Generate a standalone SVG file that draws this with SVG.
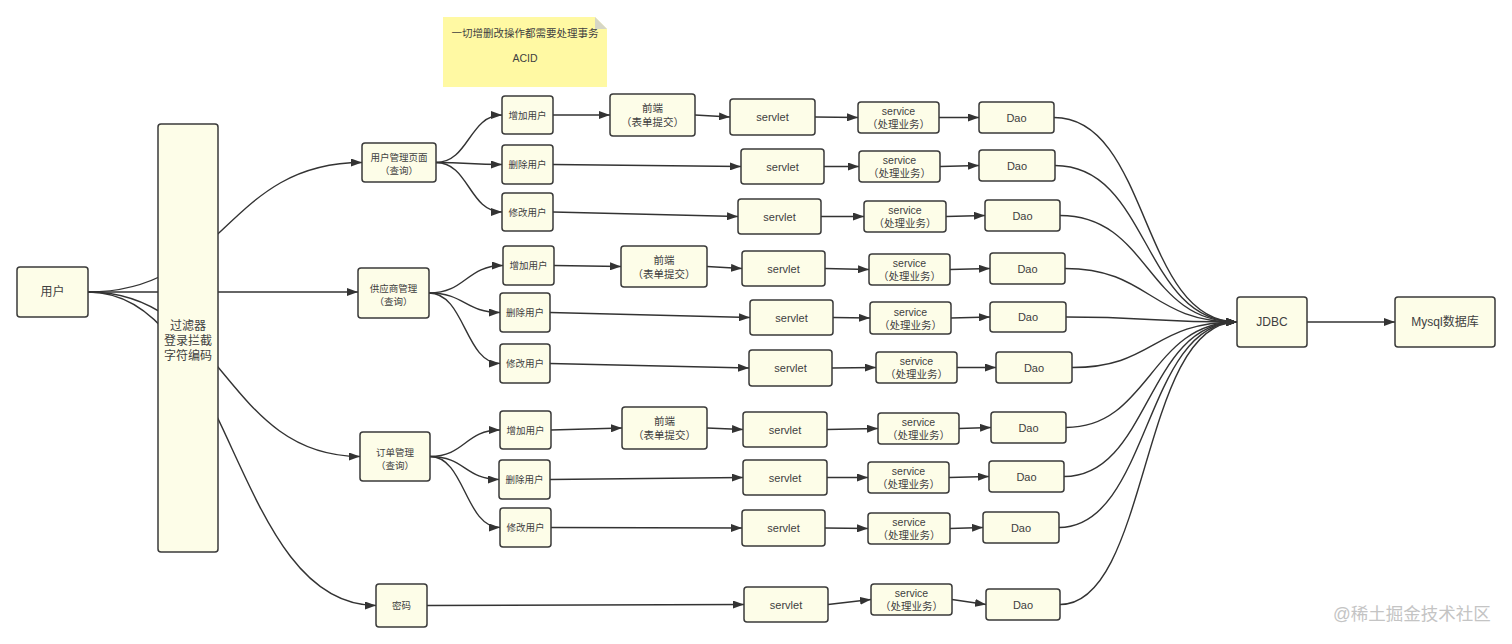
<svg xmlns="http://www.w3.org/2000/svg" width="1512" height="644" viewBox="0 0 1512 644">
<style>
.n{fill:#fdfde8;stroke:#3a3a3a;stroke-width:1.5}
.t{font-family:"Liberation Sans","Noto Sans CJK SC",sans-serif;fill:#404040;text-anchor:middle}
.s9{font-size:9.5px}.s10{font-size:10.5px}.s11{font-size:11px}.s12{font-size:12px}
.c{fill:none;stroke:#333;stroke-width:1.4}
.a{marker-end:url(#ah)}
</style>
<defs>
<marker id="ah" markerUnits="userSpaceOnUse" markerWidth="11" markerHeight="8" refX="11" refY="4" orient="auto"><path d="M0,0 L11,4 L0,8 z" fill="#333"/></marker>
</defs>
<rect width="1512" height="644" fill="#fff"/>

<g id="note">
<polygon points="443,17 595,17 607,29 607,87 443,87" fill="#fff9a3"/>
<polygon points="595,17 607,29 595,29" fill="#d6d6c6"/>
<text class="t s10" x="525" y="37">一切增删改操作都需要处理事务</text>
<text class="t s10" x="525" y="62">ACID</text>
</g>

<g id="connectors">
<!-- user fans (hidden behind filter) -->
<path class="c a" d="M88,292 C225,292 225,162.5 362,162.5"/>
<path class="c a" d="M88,292 L358,292"/>
<path class="c a" d="M88,292 C224,292 224,456.5 360,456.5"/>
<path class="c a" d="M88,292 C232,292 232,605.5 376,605.5"/>
<!-- module fans -->
<path class="c a" d="M436,162.5 C469,162.5 469,115 502,115"/>
<path class="c a" d="M436,162.5 C469,162.5 469,164.5 502,164.5"/>
<path class="c a" d="M436,162.5 C469,162.5 469,212 502,212"/>
<path class="c a" d="M429,293 C466,293 466,265.5 503,265.5"/>
<path class="c a" d="M429,293 C465,293 465,312.5 500,312.5"/>
<path class="c a" d="M429,293 C465,293 465,363.5 500,363.5"/>
<path class="c a" d="M430,456.5 C465,456.5 465,430 500,430"/>
<path class="c a" d="M430,456.5 C465,456.5 465,479.5 499,479.5"/>
<path class="c a" d="M430,456.5 C465,456.5 465,527.5 500,527.5"/>
<!-- row 1 -->
<path class="c a" d="M553,115 L610,115"/>
<path class="c a" d="M695,115 L730,117"/>
<path class="c a" d="M815,117 L858,117.5"/>
<path class="c a" d="M939,117.5 L979,117.5"/>
<path class="c a" d="M553,164.5 L741,166.5"/>
<path class="c a" d="M824,166.5 L859,166.5"/>
<path class="c a" d="M940,166.5 L979,165.5"/>
<path class="c a" d="M553,212 L738,216.5"/>
<path class="c a" d="M821,216.5 L864,216.5"/>
<path class="c a" d="M946,216.5 L985,215.5"/>
<!-- row 2 -->
<path class="c a" d="M554,265.5 L621,266.5"/>
<path class="c a" d="M707,266.5 L742,268.5"/>
<path class="c a" d="M825,268.5 L869,269.5"/>
<path class="c a" d="M950,269.5 L990,268.5"/>
<path class="c a" d="M550,312.5 L750,317.5"/>
<path class="c a" d="M833,317.5 L870,318"/>
<path class="c a" d="M951,318 L990,317"/>
<path class="c a" d="M550,363.5 L749,368"/>
<path class="c a" d="M832,368 L876,367.5"/>
<path class="c a" d="M957,367.5 L996,367.5"/>
<!-- row 3 -->
<path class="c a" d="M551,430 L622,428"/>
<path class="c a" d="M707,428 L743,429.5"/>
<path class="c a" d="M827,429.5 L878,428.5"/>
<path class="c a" d="M959,428.5 L991,427.5"/>
<path class="c a" d="M550,479.5 L743,477.5"/>
<path class="c a" d="M827,477.5 L868,477.5"/>
<path class="c a" d="M949,477.5 L989,476.5"/>
<path class="c a" d="M551,527.5 L742,528"/>
<path class="c a" d="M825,528 L868,528.5"/>
<path class="c a" d="M950,528.5 L983,527.5"/>
<!-- row 4 -->
<path class="c a" d="M427,605.5 L744,604.5"/>
<path class="c a" d="M828,604.5 L871,599.5"/>
<path class="c a" d="M952,599.5 L986,604.5"/>
<!-- Dao to JDBC -->
<path class="c a" d="M1054,117.5 C1150,117.5 1140,322 1237,322"/>
<path class="c a" d="M1055,165.5 C1150,165.5 1142,322 1237,322"/>
<path class="c a" d="M1060,215.5 C1150,215.5 1146,322 1237,322"/>
<path class="c a" d="M1065,268.5 C1150,268.5 1150,322 1237,322"/>
<path class="c a" d="M1066,317 C1150,317 1150,322 1237,322"/>
<path class="c a" d="M1072,367.5 C1155,367.5 1152,322 1237,322"/>
<path class="c a" d="M1066,427.5 C1150,427.5 1150,322 1237,322"/>
<path class="c a" d="M1064,476.5 C1150,476.5 1146,322 1237,322"/>
<path class="c a" d="M1059,527.5 C1150,527.5 1144,322 1237,322"/>
<path class="c a" d="M1060,604.5 C1150,604.5 1140,322 1237,322"/>
<path class="c a" d="M1307,322 L1395,322"/>
</g>

<g id="user"><rect class="n" x="17" y="267" width="71" height="50" rx="3"/><text class="t s12" x="52.5" y="296">用户</text></g>
<g id="filter"><rect class="n" x="158" y="124" width="60" height="428" rx="3"/>
<text class="t s12" x="188" y="330">过滤器</text><text class="t s12" x="188" y="345">登录拦截</text><text class="t s12" x="188" y="360">字符编码</text></g>

<g id="m1"><rect class="n" x="362" y="143" width="74" height="39" rx="3"/><text class="t s9" x="399" y="161">用户管理页面</text><text class="t s9" x="399" y="174">（查询）</text></g>
<g id="m2"><rect class="n" x="358" y="268" width="71" height="50" rx="3"/><text class="t s9" x="393.5" y="292">供应商管理</text><text class="t s9" x="393.5" y="305">（查询）</text></g>
<g id="m3"><rect class="n" x="360" y="432" width="70" height="49" rx="3"/><text class="t s9" x="395" y="456">订单管理</text><text class="t s9" x="395" y="469">（查询）</text></g>
<g id="m4"><rect class="n" x="376" y="584" width="51" height="43" rx="3"/><text class="t s9" x="401.5" y="609">密码</text></g>

<g id="a1"><rect class="n" x="502" y="96" width="51" height="38" rx="3"/><text class="t s9" x="527.5" y="118.5">增加用户</text></g>
<g id="d1"><rect class="n" x="502" y="145" width="51" height="39" rx="3"/><text class="t s9" x="527.5" y="168">删除用户</text></g>
<g id="u1"><rect class="n" x="502" y="193" width="51" height="38" rx="3"/><text class="t s9" x="527.5" y="215.5">修改用户</text></g>
<g id="a2"><rect class="n" x="503" y="246" width="51" height="39" rx="3"/><text class="t s9" x="528.5" y="269">增加用户</text></g>
<g id="d2"><rect class="n" x="500" y="293" width="50" height="39" rx="3"/><text class="t s9" x="525" y="316">删除用户</text></g>
<g id="u2"><rect class="n" x="500" y="344" width="50" height="39" rx="3"/><text class="t s9" x="525" y="367">修改用户</text></g>
<g id="a3"><rect class="n" x="500" y="411" width="51" height="38" rx="3"/><text class="t s9" x="525.5" y="433.5">增加用户</text></g>
<g id="d3"><rect class="n" x="499" y="460" width="51" height="39" rx="3"/><text class="t s9" x="524.5" y="483">删除用户</text></g>
<g id="u3"><rect class="n" x="500" y="508" width="51" height="39" rx="3"/><text class="t s9" x="525.5" y="531">修改用户</text></g>

<g id="f1"><rect class="n" x="610" y="94" width="85" height="42" rx="3"/><text class="t s10" x="652.5" y="112">前端</text><text class="t s10" x="652.5" y="126">（表单提交）</text></g>
<g id="f2"><rect class="n" x="621" y="246" width="86" height="41" rx="3"/><text class="t s10" x="664" y="264">前端</text><text class="t s10" x="664" y="278">（表单提交）</text></g>
<g id="f3"><rect class="n" x="622" y="407" width="85" height="42" rx="3"/><text class="t s10" x="664.5" y="425">前端</text><text class="t s10" x="664.5" y="439">（表单提交）</text></g>

<g id="s1"><rect class="n" x="730" y="99" width="85" height="36" rx="3"/><text class="t s11" x="772.5" y="121">servlet</text></g>
<g id="s2"><rect class="n" x="741" y="149" width="83" height="35" rx="3"/><text class="t s11" x="782.5" y="170.5">servlet</text></g>
<g id="s3"><rect class="n" x="738" y="199" width="83" height="35" rx="3"/><text class="t s11" x="779.5" y="220.5">servlet</text></g>
<g id="s4"><rect class="n" x="742" y="251" width="83" height="35" rx="3"/><text class="t s11" x="783.5" y="272.5">servlet</text></g>
<g id="s5"><rect class="n" x="750" y="300" width="83" height="35" rx="3"/><text class="t s11" x="791.5" y="321.5">servlet</text></g>
<g id="s6"><rect class="n" x="749" y="350" width="83" height="36" rx="3"/><text class="t s11" x="790.5" y="372">servlet</text></g>
<g id="s7"><rect class="n" x="743" y="412" width="84" height="35" rx="3"/><text class="t s11" x="785" y="433.5">servlet</text></g>
<g id="s8"><rect class="n" x="743" y="460" width="84" height="35" rx="3"/><text class="t s11" x="785" y="481.5">servlet</text></g>
<g id="s9"><rect class="n" x="742" y="510" width="83" height="36" rx="3"/><text class="t s11" x="783.5" y="532">servlet</text></g>
<g id="s10"><rect class="n" x="744" y="587" width="84" height="35" rx="3"/><text class="t s11" x="786" y="608.5">servlet</text></g>

<g id="v1"><rect class="n" x="858" y="102" width="81" height="31" rx="3"/><text class="t s10" x="898.5" y="115">service</text><text class="t s10" x="898.5" y="128">（处理业务）</text></g>
<g id="v2"><rect class="n" x="859" y="151" width="81" height="31" rx="3"/><text class="t s10" x="899.5" y="164">service</text><text class="t s10" x="899.5" y="177">（处理业务）</text></g>
<g id="v3"><rect class="n" x="864" y="201" width="82" height="31" rx="3"/><text class="t s10" x="905" y="214">service</text><text class="t s10" x="905" y="227">（处理业务）</text></g>
<g id="v4"><rect class="n" x="869" y="254" width="81" height="31" rx="3"/><text class="t s10" x="909.5" y="267">service</text><text class="t s10" x="909.5" y="280">（处理业务）</text></g>
<g id="v5"><rect class="n" x="870" y="302" width="81" height="32" rx="3"/><text class="t s10" x="910.5" y="315.5">service</text><text class="t s10" x="910.5" y="328.5">（处理业务）</text></g>
<g id="v6"><rect class="n" x="876" y="352" width="81" height="31" rx="3"/><text class="t s10" x="916.5" y="365">service</text><text class="t s10" x="916.5" y="378">（处理业务）</text></g>
<g id="v7"><rect class="n" x="878" y="413" width="81" height="31" rx="3"/><text class="t s10" x="918.5" y="426">service</text><text class="t s10" x="918.5" y="439">（处理业务）</text></g>
<g id="v8"><rect class="n" x="868" y="462" width="81" height="31" rx="3"/><text class="t s10" x="908.5" y="475">service</text><text class="t s10" x="908.5" y="488">（处理业务）</text></g>
<g id="v9"><rect class="n" x="868" y="513" width="82" height="31" rx="3"/><text class="t s10" x="909" y="526">service</text><text class="t s10" x="909" y="539">（处理业务）</text></g>
<g id="v10"><rect class="n" x="871" y="584" width="81" height="31" rx="3"/><text class="t s10" x="911.5" y="597">service</text><text class="t s10" x="911.5" y="610">（处理业务）</text></g>

<g id="o1"><rect class="n" x="979" y="102" width="75" height="31" rx="3"/><text class="t s11" x="1016.5" y="121.5">Dao</text></g>
<g id="o2"><rect class="n" x="979" y="150" width="76" height="31" rx="3"/><text class="t s11" x="1017" y="169.5">Dao</text></g>
<g id="o3"><rect class="n" x="985" y="200" width="75" height="31" rx="3"/><text class="t s11" x="1022.5" y="219.5">Dao</text></g>
<g id="o4"><rect class="n" x="990" y="253" width="75" height="31" rx="3"/><text class="t s11" x="1027.5" y="272.5">Dao</text></g>
<g id="o5"><rect class="n" x="990" y="302" width="76" height="30" rx="3"/><text class="t s11" x="1028" y="321">Dao</text></g>
<g id="o6"><rect class="n" x="996" y="352" width="76" height="31" rx="3"/><text class="t s11" x="1034" y="371.5">Dao</text></g>
<g id="o7"><rect class="n" x="991" y="412" width="75" height="31" rx="3"/><text class="t s11" x="1028.5" y="431.5">Dao</text></g>
<g id="o8"><rect class="n" x="989" y="461" width="75" height="31" rx="3"/><text class="t s11" x="1026.5" y="480.5">Dao</text></g>
<g id="o9"><rect class="n" x="983" y="512" width="76" height="31" rx="3"/><text class="t s11" x="1021" y="531.5">Dao</text></g>
<g id="o10"><rect class="n" x="986" y="589" width="74" height="31" rx="3"/><text class="t s11" x="1023" y="608.5">Dao</text></g>

<g id="jdbc"><rect class="n" x="1237" y="297" width="70" height="50" rx="3"/><text class="t s12" x="1272" y="326">JDBC</text></g>
<g id="mysql"><rect class="n" x="1395" y="297" width="100" height="50" rx="3"/><text class="t s12" x="1445" y="326">Mysql数据库</text></g>

<text x="1412" y="620" style="font-family:'Liberation Sans','Noto Sans CJK SC',sans-serif;font-size:17.5px;fill:#c4c4c4;text-anchor:middle">@稀土掘金技术社区</text>
</svg>
